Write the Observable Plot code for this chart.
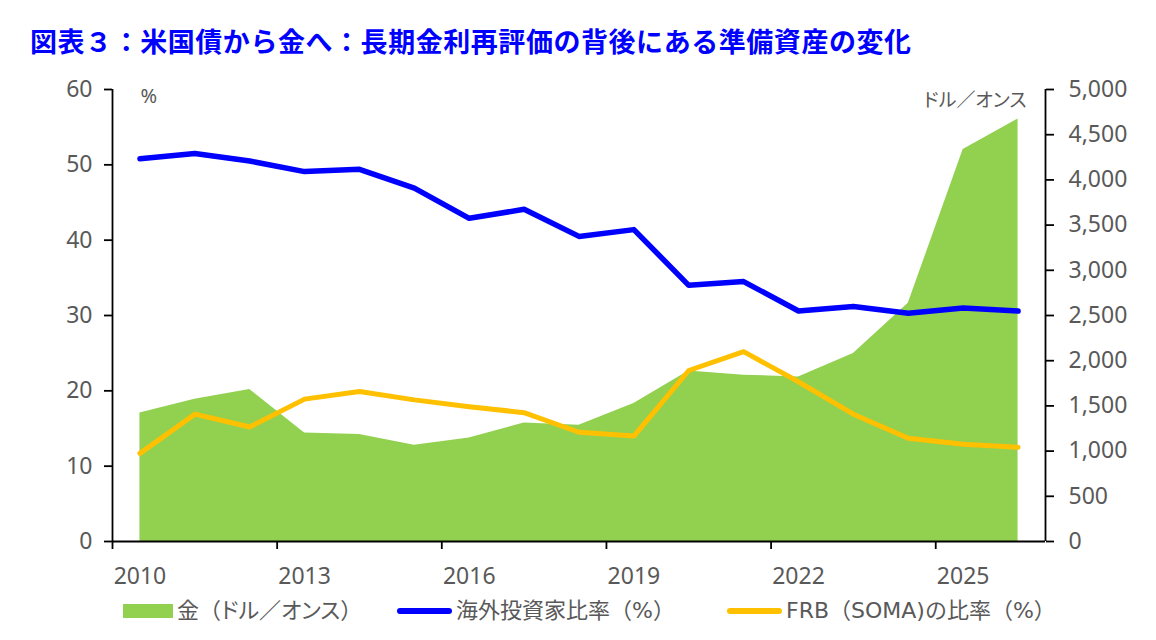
<!DOCTYPE html>
<html><head><meta charset="utf-8">
<script src="https://cdn.jsdelivr.net/npm/d3@7"></script>
<script src="https://cdn.jsdelivr.net/npm/@observablehq/plot@0.6"></script>
<style>
body{margin:0;background:#fff;font-family:"Noto Sans","Noto Sans CJK JP",sans-serif;}
#wrap{width:1156px;height:640px;position:relative;overflow:hidden;background:#fff}
#title{height:70px;box-sizing:border-box;padding:27px 0 0 30px;font-weight:bold;font-size:27px;line-height:27px;letter-spacing:0.55px;font-family:"Noto Sans CJK JP",sans-serif;color:#0000FF;white-space:nowrap}
#chart svg{display:block}
#legend{position:relative;height:40px}
.item{position:absolute;top:0;height:22px;display:flex;align-items:center;font-size:22px;line-height:22px;font-family:"DejaVu Sans","Noto Sans CJK JP",sans-serif;color:#595959;white-space:nowrap}
.kana{font-feature-settings:"palt"}
</style>
</head><body>
<div id="wrap">
  <div id="title"></div>
  <div id="chart"></div>
  <div id="legend"></div>
</div>
<script>
// ---- data ----
const titleText = "図表３：米国債から金へ：長期金利再評価の背後にある準備資産の変化";
const years   = [2010,2011,2012,2013,2014,2015,2016,2017,2018,2019,2020,2021,2022,2023,2024,2025,2026];
const gold    = [1422,1574,1682,1201,1183,1064,1145,1311,1286,1527,1885,1840,1821,2081,2635,4335,4675];
const foreign = [50.8,51.5,50.5,49.1,49.4,46.9,42.9,44.1,40.5,41.4,34.0,34.5,30.6,31.2,30.3,31.0,30.6];
const frb     = [11.7,16.9,15.2,18.9,19.9,18.8,17.9,17.1,14.5,14.0,22.7,25.2,21.2,16.9,13.7,12.9,12.5];
const xDomain = [2009.5, 2026.5];
const xBoundaryTicks = [2009.5, 2012.5, 2015.5, 2018.5, 2021.5, 2024.5];
const xLabelYears = [2010, 2013, 2016, 2019, 2022, 2025];
const leftTicks  = [0,10,20,30,40,50,60];
const rightTicks = [0,500,1000,1500,2000,2500,3000,3500,4000,4500,5000];
const leftMax = 60, rightMax = 5000;
const leftUnit = "%", rightUnit = "ドル／オンス";
const legendLabels = ["金（ドル／オンス）", "海外投資家比率（%）", "FRB（SOMA)の比率（%）"];
const colors = {gold:"#92D050", foreign:"#0000FF", frb:"#FFC000"};

// ---- build ----
const toLeft = v => v * leftMax / rightMax;
const data = years.map((y,i)=>({year:y, gold:gold[i], foreign:foreign[i], frb:frb[i]}));
document.getElementById("title").textContent = titleText;

const chart = Plot.plot({
  width:1156, height:530,
  marginTop:19, marginBottom:59, marginLeft:112, marginRight:111,
  x:{domain:xDomain, label:null},
  y:{domain:[0,leftMax], label:null},
  style:{fontFamily:"'Noto Sans','Noto Sans CJK JP',sans-serif", fontSize:"23px", color:"#595959", background:"transparent", overflow:"visible"},
  marks:[
    Plot.areaY(data, {x:"year", y:d=>toLeft(d.gold), fill:colors.gold}),
    Plot.lineY(data, {x:"year", y:"foreign", stroke:colors.foreign, strokeWidth:5.5, strokeLinejoin:"round", strokeLinecap:"round"}),
    Plot.lineY(data, {x:"year", y:"frb", stroke:colors.frb, strokeWidth:5, strokeLinejoin:"round", strokeLinecap:"round"}),
    Plot.ruleY([0], {stroke:"black", strokeWidth:1.8}),
    Plot.ruleX(xDomain, {stroke:"black", strokeWidth:1.8}),
    Plot.axisY(leftTicks, {anchor:"left", tickSize:8, tickPadding:12, stroke:"black", strokeWidth:1.8, fill:"#595959", tickFormat:d=>String(d), label:null}),
    Plot.axisY(rightTicks.map(toLeft), {anchor:"right", tickSize:8, tickPadding:15, stroke:"black", strokeWidth:1.8, fill:"#595959", tickFormat:d=>d3.format(",")(Math.round(d*rightMax/leftMax)), label:null}),
    Plot.axisX(xBoundaryTicks, {anchor:"bottom", tickSize:8, stroke:"black", strokeWidth:1.8, tickFormat:()=>"", label:null}),
    Plot.axisX(xLabelYears, {anchor:"bottom", tickSize:0, tickPadding:26, fill:"#595959", tickFormat:d=>String(d), label:null}),
    Plot.text([leftUnit], {text:d=>d, frameAnchor:"top-left", dx:28, dy:7, textAnchor:"start", lineAnchor:"middle", fontSize:20, fill:"#595959"}),
    Plot.text([rightUnit], {text:d=>d, frameAnchor:"top-right", dx:-19, dy:11, textAnchor:"end", lineAnchor:"middle", fontSize:19, fill:"#595959"})
  ]
});
chart.style.fontFeatureSettings = '"palt"';
document.getElementById("chart").appendChild(chart);

// ---- legend ----
const legend = document.getElementById("legend");
const legendItems = [
  {label:legendLabels[0], color:colors.gold, left:123, kind:"box"},
  {label:legendLabels[1], color:colors.foreign, left:397, kind:"line"},
  {label:legendLabels[2], color:colors.frb, left:727, kind:"line"}
];
legendItems.forEach(it=>{
  const d = document.createElement("div");
  d.className = "item";
  d.style.left = it.left + "px";
  const sw = document.createElement("span");
  sw.style.display = "inline-block";
  sw.style.background = it.color;
  if (it.kind === "box") { sw.style.width = "50px"; sw.style.height = "14px"; }
  else { sw.style.width = "55px"; sw.style.height = "6px"; sw.style.borderRadius = "3px"; }
  sw.style.marginRight = "4px";
  const t = document.createElement("span");
  it.label.split(/([ァ-ヶー／]+)/).forEach(part=>{
    if (!part) return;
    const s = document.createElement("span");
    if (/^[ァ-ヶー／]+$/.test(part)) s.className = "kana";
    s.textContent = part;
    t.appendChild(s);
  });
  d.appendChild(sw); d.appendChild(t);
  legend.appendChild(d);
});
</script>
</body></html>
